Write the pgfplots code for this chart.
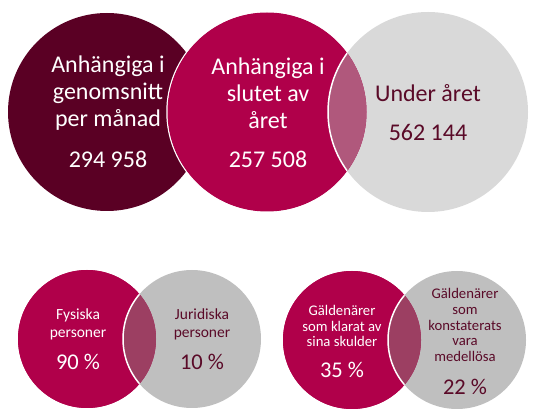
\documentclass[border=0pt]{standalone}
\usepackage{fontspec}
\setmainfont{Carlito}
\usepackage{pgfplots}
\pgfplotsset{compat=1.18}
\definecolor{maroon}{HTML}{5A0024}
\definecolor{crimson}{HTML}{B0004A}
\definecolor{lensTop}{HTML}{B0587C}
\definecolor{grayTop}{HTML}{D9D9D9}
\definecolor{grayBot}{HTML}{BFBFBF}
\definecolor{lensBot}{HTML}{9C3F62}
\definecolor{txtDark}{HTML}{5A0A28}

% a circle drawn as a node at a data point: fill colour, diameter, extra options
\pgfplotsset{
  circ/.style n args={3}{only marks, mark=none, nodes near coords={},
    every node near coord/.append style={circle, inner sep=0pt, anchor=center,
      minimum size=#2, fill=#1, #3}},
}
\tikzset{
  big/.style={inner sep=0pt, align=center, font=\fontsize{24bp}{27bp}\selectfont},
  mid/.style={inner sep=0pt, align=center, font=\fontsize{15.5bp}{18bp}\selectfont},
  sml/.style={inner sep=0pt, align=center, font=\fontsize{14.7bp}{15.8bp}\selectfont},
  num/.style={inner sep=0pt, align=center, font=\fontsize{22.5bp}{26bp}\selectfont},
}

\begin{document}
\begin{tikzpicture}
\begin{axis}[
  set layers,
  scale only axis, width=535bp, height=408bp,
  xmin=0, xmax=535, ymin=0, ymax=408, y dir=reverse,
  axis line style={draw=none}, xtick=\empty, ytick=\empty,
]
% top row
\addplot[circ={maroon}{198bp}{}] coordinates {(107,112)};
\addplot[circ={crimson}{200bp}{draw=white, line width=1.5bp}] coordinates {(267,112)};
\addplot[circ={grayTop}{200bp}{}] coordinates {(428,112)};
\addplot[circ={crimson}{199bp}{path picture={
  \fill[lensTop, draw=white, line width=1.5bp]
    ([xshift=161bp]path picture bounding box.center) circle[radius=100bp];}}]
  coordinates {(267,112)};

% bottom row
\addplot[circ={crimson}{138bp}{}] coordinates {(87,339)};
\addplot[circ={grayBot}{138bp}{}] coordinates {(192,339)};
\addplot[circ={crimson}{138bp}{path picture={
  \fill[lensBot, draw=white, line width=1.5bp]
    ([xshift=105bp]path picture bounding box.center) circle[radius=69bp];}}]
  coordinates {(87,339)};
\addplot[circ={crimson}{138bp}{}] coordinates {(352,340)};
\addplot[circ={grayBot}{138bp}{}] coordinates {(457,340)};
\addplot[circ={crimson}{138bp}{path picture={
  \fill[lensBot, draw=white, line width=1.5bp]
    ([xshift=105bp]path picture bounding box.center) circle[radius=69bp];}}]
  coordinates {(352,340)};

\begin{pgfonlayer}{axis foreground}
% labels, top
\node[big, white] at (axis cs:108,93) {Anhängiga i\\genomsnitt\\per månad};
\node[big, white] at (axis cs:108,159) {294 958};
\node[big, white] at (axis cs:268,93) {Anhängiga i\\slutet av\\året};
\node[big, white] at (axis cs:268,159) {257 508};
\node[big, txtDark] at (axis cs:428,93) {Under året};
\node[big, txtDark] at (axis cs:428,132) {562 144};

% labels, bottom
\node[mid, white] at (axis cs:78,324) {Fysiska\\personer};
\node[num, white] at (axis cs:78,362) {90 \%};
\node[mid, txtDark] at (axis cs:202,324) {Juridiska\\personer};
\node[num, txtDark] at (axis cs:202,362) {10 \%};
\node[sml, white] at (axis cs:342,326) {Gäldenärer\\som klarat av\\sina skulder};
\node[num, white] at (axis cs:342,370) {35 \%};
\node[sml, txtDark] at (axis cs:465,325) {Gäldenärer\\som\\konstaterats\\vara\\medellösa};
\node[num, txtDark] at (axis cs:465,387) {22 \%};
\end{pgfonlayer}
\end{axis}
\end{tikzpicture}
\end{document}
